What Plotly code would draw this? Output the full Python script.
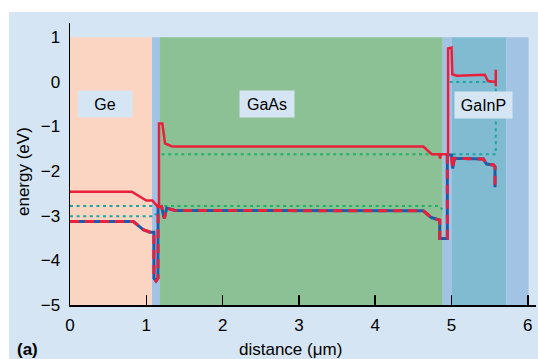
import plotly.graph_objects as go

# ---------------- data ----------------
# conduction band (solid red)
ec_x = [0, 0.81, 1.00, 1.08, 1.15, 1.166, 1.166, 1.21, 1.245, 1.33, 1.40, 4.63, 4.74, 4.84, 4.85, 4.86,
        4.955, 4.955, 5.0, 5.01, 5.07, 5.435, 5.478, 5.58, 5.58, 5.58]
ec_y = [-2.46, -2.46, -2.66, -2.66, -2.80, -2.80, -0.93, -0.93, -1.38, -1.44, -1.45, -1.45, -1.62, -1.62, -1.72, -1.62,
        -1.62, 0.75, 0.77, 0.17, 0.14, 0.16, 0.02, 0.0, 0.27, -0.10]

# valence band (dashed red/blue)
ev_x = [0, 0.83, 0.96, 1.05, 1.10, 1.10, 1.127, 1.153, 1.155, 1.20, 1.236, 1.267, 1.376, 4.63, 4.735, 4.823,
        4.845, 4.845, 4.945, 4.945, 5.0, 5.015, 5.037, 5.417, 5.46, 5.55, 5.57, 5.57]
ev_y = [-3.13, -3.13, -3.31, -3.37, -3.37, -4.40, -4.46, -4.40, -2.78, -2.80, -3.06, -2.83, -2.88, -2.89, -3.04, -3.10,
        -3.10, -3.51, -3.51, -1.64, -1.64, -1.94, -1.71, -1.73, -1.84, -1.86, -1.90, -2.36]

# quasi-Fermi levels (dotted)
ge_f1_x, ge_f1_y = [0, 1.15], [-2.78, -2.78]
ge_f2_x, ge_f2_y = [0, 1.11, 1.13], [-3.01, -3.01, -2.95]
gaas_f1_x, gaas_f1_y = [1.20, 4.87], [-1.62, -1.62]
gaas_f2_x, gaas_f2_y = [1.15, 4.84, 4.88], [-2.78, -2.78, -2.86]
gainp_f_x = [4.975, 5.58, 5.58, 4.975]
gainp_f_y = [0.0, 0.0, -1.62, -1.62]

# layers
layer_names = ["Ge", "", "GaAs", "", "GaInP", ""]
layer_start = [0, 1.075, 1.18, 4.885, 5.005, 5.72]
layer_end = [1.075, 1.18, 4.885, 5.005, 5.72, 6.01]
layer_colors = ["#fcd4c2", "#a3c3e5", "#8cc095", "#a3c3e5", "#80bbd1", "#a3c3e5"]

labels = ["Ge", "GaAs", "GaInP"]
label_x = [0.459, 2.582, 5.417]
label_y = [-0.50, -0.49, -0.52]
label_w = [54, 54, 57]

x_ticks = [0, 1, 2, 3, 4, 5, 6]
y_ticks = [-5, -4, -3, -2, -1, 0, 1]

# ---------------- style ----------------
PANEL = "#d5e5f4"
RED = "#e8203c"
BLUE = "#1c5ca8"
TEAL = "#1aa5a0"
GREEN = "#22b06c"
FONT = "Liberation Sans, Arial, sans-serif"

W, H = 538, 359
L, R, T, B = 70, 2, 23, 54
PW, PH = W - L - R, H - T - B


def px_x(px):
    return (px - L) / PW


def px_y(py):
    return (H - B - py) / PH


fig = go.Figure()

shapes = []
for x0, x1, c in zip(layer_start, layer_end, layer_colors):
    shapes.append(dict(type="rect", xref="x", yref="y", x0=x0, x1=x1, y0=-5, y1=1,
                       fillcolor=c, line=dict(width=0), layer="below"))
# thin white strips outside the panel (top and left)
shapes.append(dict(type="rect", xref="paper", yref="paper", x0=px_x(-5), x1=px_x(W + 5),
                   y0=px_y(12), y1=px_y(-5), fillcolor="white", line=dict(width=0), layer="above"))
shapes.append(dict(type="rect", xref="paper", yref="paper", x0=px_x(-5), x1=px_x(9),
                   y0=px_y(H + 5), y1=px_y(-5), fillcolor="white", line=dict(width=0), layer="above"))

dot = "3px,3.6px"
for xs, ys, col in [(ge_f1_x, ge_f1_y, TEAL), (ge_f2_x, ge_f2_y, TEAL),
                    (gaas_f1_x, gaas_f1_y, GREEN), (gaas_f2_x, gaas_f2_y, GREEN),
                    (gainp_f_x, gainp_f_y, TEAL)]:
    fig.add_trace(go.Scatter(x=xs, y=ys, mode="lines",
                             line=dict(color=col, width=2, dash=dot),
                             hoverinfo="skip", showlegend=False))

fig.add_trace(go.Scatter(x=ev_x, y=ev_y, mode="lines",
                         line=dict(color=BLUE, width=3), showlegend=False))
fig.add_trace(go.Scatter(x=ev_x, y=ev_y, mode="lines",
                         line=dict(color=RED, width=3, dash="9px,6px"), showlegend=False))
fig.add_trace(go.Scatter(x=ec_x, y=ec_y, mode="lines",
                         line=dict(color=RED, width=2.5), showlegend=False))

annotations = []
for t, x, y, w in zip(labels, label_x, label_y, label_w):
    annotations.append(dict(text=t, x=x, y=y, xref="x", yref="y", showarrow=False,
                            xanchor="center", yanchor="middle",
                            bgcolor=PANEL, width=w, height=26, borderpad=0,
                            font=dict(family=FONT, size=16, color="black")))
annotations.append(dict(text="distance (μm)", x=px_x(290.5), y=px_y(349),
                        xref="paper", yref="paper", showarrow=False,
                        xanchor="center", yanchor="middle",
                        font=dict(family=FONT, size=17, color="black")))
annotations.append(dict(text="energy (eV)", x=px_x(23), y=px_y(172),
                        xref="paper", yref="paper", showarrow=False, textangle=-90,
                        xanchor="center", yanchor="middle",
                        font=dict(family=FONT, size=17, color="black")))
annotations.append(dict(text="<b>(a)</b>", x=px_x(27.5), y=px_y(349),
                        xref="paper", yref="paper", showarrow=False,
                        xanchor="center", yanchor="middle",
                        font=dict(family=FONT, size=17, color="black")))

fig.update_layout(
    width=W, height=H,
    margin=dict(l=L, r=R, t=T, b=B),
    paper_bgcolor=PANEL, plot_bgcolor=PANEL,
    shapes=shapes, annotations=annotations,
    showlegend=False,
    font=dict(family=FONT, size=17, color="black"),
)
fig.update_xaxes(range=[0, 6.107], tickvals=x_ticks, ticks="inside", ticklen=10, tickwidth=1.5,
                 tickcolor="black", showline=True, linecolor="black", linewidth=1.5,
                 showgrid=False, zeroline=False, ticklabelstandoff=4,
                 tickfont=dict(family=FONT, size=17, color="black"))
fig.update_yaxes(range=[-5, 1.32], tickvals=y_ticks, ticks="", showline=True, linecolor="black",
                 linewidth=1.5, showgrid=False, zeroline=False, ticklabelstandoff=5,
                 tickfont=dict(family=FONT, size=17, color="black"))

# remove the default 8px page margin so the figure fills the window exactly
fig.write_html("out.html",
               config={"displayModeBar": False, "staticPlot": True},
               post_script="document.body.style.margin='0';"
                           "document.documentElement.style.overflow='hidden';")
